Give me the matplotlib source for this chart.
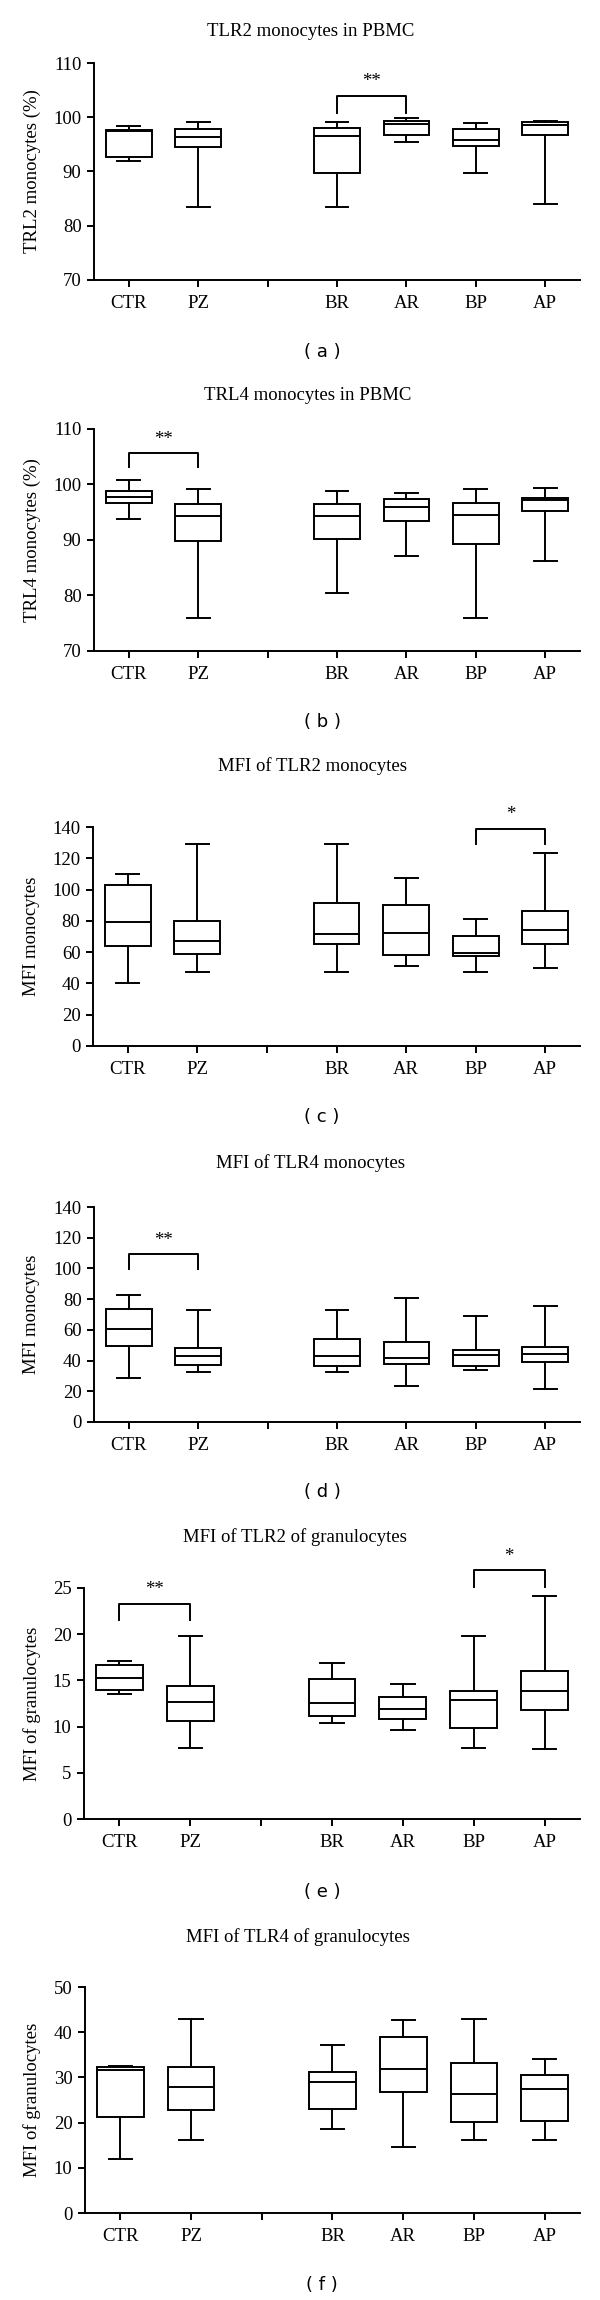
import matplotlib
matplotlib.use("Agg")
import matplotlib.pyplot as plt

categories = ["CTR", "PZ", "BR", "AR", "BP", "AP"]

# five-number summaries per group: (min, q1, median, q3, max)
tlr2_pbmc = [(91.9, 92.7, 97.4, 97.7, 98.3), (83.5, 94.5, 96.4, 97.9, 99.1),
             (83.5, 89.7, 96.6, 98.1, 99.1), (95.5, 96.7, 98.8, 99.3, 99.8),
             (89.7, 94.7, 95.8, 97.9, 98.9), (84.0, 96.8, 98.6, 99.1, 99.4)]
tlr4_pbmc = [(93.7, 96.7, 97.8, 98.9, 100.9), (76.0, 89.8, 94.4, 96.4, 99.1),
             (80.4, 90.2, 94.4, 96.4, 98.8), (87.1, 93.4, 96.0, 97.3, 98.4),
             (76.0, 89.2, 94.5, 96.6, 99.1), (86.3, 95.3, 97.2, 97.6, 99.3)]
mfi_tlr2_mono = [(40.4, 63.8, 79.4, 103.2, 110.2), (47.0, 59.1, 67.0, 80.2, 129.1),
                 (47.4, 65.5, 71.3, 91.5, 129.1), (51.1, 58.3, 72.3, 90.0, 107.2),
                 (47.0, 57.4, 59.6, 70.0, 81.3), (49.6, 64.9, 74.3, 86.4, 123.2)]
mfi_tlr4_mono = [(28.6, 49.6, 60.8, 73.8, 82.7), (32.7, 36.8, 43.1, 48.5, 73.2),
                 (32.7, 36.6, 43.1, 53.9, 73.2), (23.2, 37.7, 41.6, 52.4, 80.5),
                 (34.0, 36.6, 43.5, 46.8, 69.3), (21.6, 39.2, 44.4, 48.9, 75.3)]
mfi_tlr2_gran = [(13.5, 13.95, 15.25, 16.65, 17.1), (7.7, 10.6, 12.7, 14.4, 19.8),
                 (10.4, 11.1, 12.6, 15.1, 16.9), (9.6, 10.8, 11.9, 13.2, 14.6),
                 (7.7, 9.9, 12.9, 13.8, 19.8), (7.6, 11.8, 13.9, 16.0, 24.1)]
mfi_tlr4_gran = [(12.0, 21.2, 31.6, 32.2, 32.6), (16.1, 22.7, 27.8, 32.2, 42.9),
                 (18.6, 22.9, 29.0, 31.3, 37.1), (14.6, 26.8, 31.9, 38.9, 42.6),
                 (16.1, 20.1, 26.4, 33.1, 42.9), (16.1, 20.3, 27.4, 30.5, 34.1)]

titles = ["TLR2 monocytes in PBMC", "TRL4 monocytes in PBMC", "MFI of TLR2 monocytes",
          "MFI of TLR4 monocytes", "MFI of TLR2 of granulocytes", "MFI of TLR4 of granulocytes"]
ylabels = ["TRL2 monocytes (%)", "TRL4 monocytes (%)", "MFI monocytes",
           "MFI monocytes", "MFI of granulocytes", "MFI of granulocytes"]
letters = ["a", "b", "c", "d", "e", "f"]
yranges = [(70, 110, 10), (70, 110, 10), (0, 140, 20), (0, 140, 20), (0, 25, 5), (0, 50, 10)]

# significance brackets: (group1, group2, leg bottom, bracket top, label)
sig_a = [("BR", "AR", 100.7, 104.0, "**")]
sig_b = [("CTR", "PZ", 103.1, 105.6, "**")]
sig_c = [("BP", "AP", 129.4, 138.9, "*")]
sig_d = [("CTR", "PZ", 99.8, 109.3, "**")]
sig_e = [("CTR", "PZ", 21.5, 23.3, "**"), ("BP", "AP", 25.1, 26.9, "*")]
sig_f = []

data = [tlr2_pbmc, tlr4_pbmc, mfi_tlr2_mono, mfi_tlr4_mono, mfi_tlr2_gran, mfi_tlr4_gran]
sigs = [sig_a, sig_b, sig_c, sig_d, sig_e, sig_f]

# layout in pixels (top, bottom, left, title_y, title_x, letter_y)
layout = [
    (63, 280, 94, 32, 311, 352),
    (429, 651, 94, 396, 308, 722),
    (827, 1046, 93, 766, 313, 1117),
    (1207, 1422, 94, 1163, 311, 1492),
    (1588, 1819, 84, 1537, 295, 1892),
    (1987, 2213, 85, 1937, 298, 2285),
]
RIGHT = 580
W, H = 600, 2300
FS = 13.5

serif = ["Liberation Serif", "DejaVu Serif"]
plt.rcParams["font.family"] = serif

fig = plt.figure(figsize=(W / 100, H / 100), dpi=100)

# group positions with a gap (empty tick) between PZ and BR
positions = [1, 2, 4, 5, 6, 7]
pos_of = dict(zip(categories, positions))
lw = 1.4

for i in range(6):
    top, bot, left, ty, tx, ly = layout[i]
    ax = fig.add_axes([left / W, 1 - bot / H, (RIGHT - left) / W, (bot - top) / H])
    stats = []
    for cat, (mn, q1, md, q3, mx) in zip(categories, data[i]):
        stats.append(dict(label=cat, whislo=mn, q1=q1, med=md, q3=q3, whishi=mx, fliers=[]))
    ax.bxp(stats, positions=positions, widths=0.66, capwidths=0.33, showfliers=False,
           patch_artist=True,
           boxprops=dict(facecolor="white", edgecolor="black", linewidth=lw),
           medianprops=dict(color="black", linewidth=lw),
           whiskerprops=dict(color="black", linewidth=lw),
           capprops=dict(color="black", linewidth=lw))
    lo, hi, step = yranges[i]
    ax.set_ylim(lo, hi)
    ax.set_yticks(range(lo, hi + 1, step))
    ax.set_xlim(0.5, 7.5)
    ax.set_xticks([1, 2, 3, 4, 5, 6, 7])
    ax.set_xticklabels(["CTR", "PZ", "", "BR", "AR", "BP", "AP"])
    for s in ["top", "right"]:
        ax.spines[s].set_visible(False)
    for s in ["left", "bottom"]:
        ax.spines[s].set_linewidth(lw)
    ax.tick_params(axis="both", direction="out", length=5, width=lw, labelsize=FS)
    ax.tick_params(axis="x", pad=6)
    ax.tick_params(axis="y", pad=4)

    for g1, g2, leg, topv, lab in sigs[i]:
        x1, x2 = pos_of[g1], pos_of[g2]
        ax.plot([x1, x1, x2, x2], [leg, topv, topv, leg], color="black", lw=lw, clip_on=False)
        span = hi - lo
        ax.text((x1 + x2) / 2, topv + span * 0.025, lab, ha="center", va="bottom",
                fontsize=FS, clip_on=False)

    fig.text(32 / W, 1 - (top + bot) / 2 / H, ylabels[i], rotation=90,
             ha="center", va="center", fontsize=FS)
    fig.text(tx / W, 1 - ty / H, titles[i], ha="center", va="center", fontsize=FS)
    fig.text(322 / W, 1 - ly / H, f"( {letters[i]} )", ha="center", va="center",
             fontsize=13, family=["DejaVu Sans"])

fig.savefig("out.png", dpi=100)
